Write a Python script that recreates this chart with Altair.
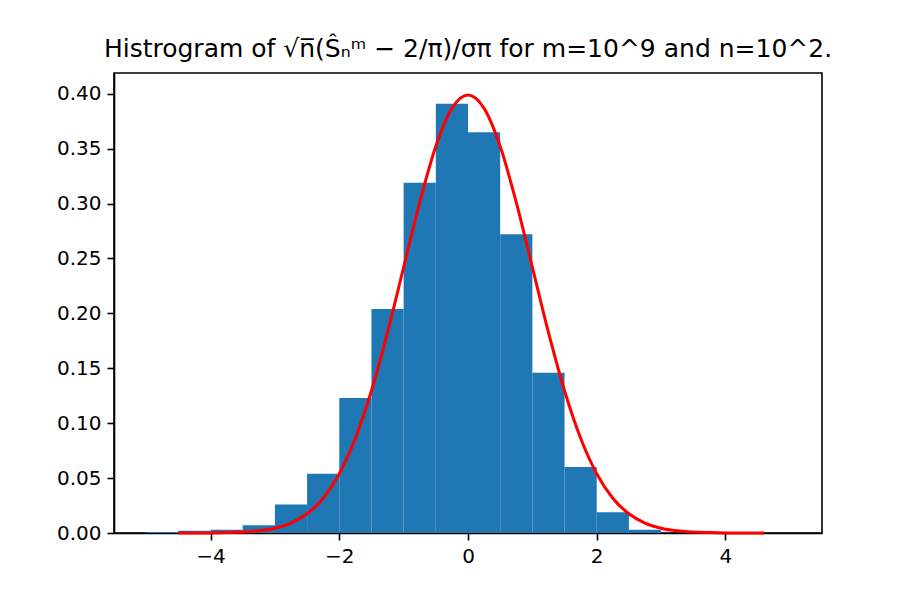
import altair as alt
import pandas as pd

# Histogram bins (edges) and densities
bin_left = [-5.0, -4.5, -4.0, -3.5, -3.0, -2.5, -2.0, -1.5, -1.0, -0.5, 0.0, 0.5, 1.0, 1.5, 2.0, 2.5]
bin_right = [-4.5, -4.0, -3.5, -3.0, -2.5, -2.0, -1.5, -1.0, -0.5, 0.0, 0.5, 1.0, 1.5, 2.0, 2.5, 3.0]
density = [0.001, 0.002, 0.003, 0.007, 0.026, 0.054, 0.123, 0.204, 0.319, 0.391,
           0.365, 0.272, 0.146, 0.060, 0.019, 0.003]

# Red density curve
curve_x = [-4.5, -4.25, -4.0, -3.75, -3.5, -3.25, -3.0, -2.75, -2.5, -2.25, -2.0, -1.75,
           -1.5, -1.25, -1.0, -0.75, -0.5, -0.25, 0.0, 0.25, 0.5, 0.75, 1.0, 1.25, 1.5,
           1.75, 2.0, 2.25, 2.5, 2.75, 3.0, 3.25, 3.5, 3.75, 4.0, 4.25, 4.5, 4.6]
curve_y = [0.0000, 0.0000, 0.0001, 0.0004, 0.0009, 0.0020, 0.0044, 0.0091, 0.0175, 0.0317,
           0.0540, 0.0863, 0.1295, 0.1826, 0.2420, 0.3011, 0.3521, 0.3867, 0.3989, 0.3867,
           0.3521, 0.3011, 0.2420, 0.1826, 0.1295, 0.0863, 0.0540, 0.0317, 0.0175, 0.0091,
           0.0044, 0.0020, 0.0009, 0.0004, 0.0001, 0.0000, 0.0000, 0.0000]

x_ticks = [-4, -2, 0, 2, 4]
y_ticks = [0.0, 0.05, 0.10, 0.15, 0.20, 0.25, 0.30, 0.35, 0.40]

hist_df = pd.DataFrame({"x0": bin_left, "x1": bin_right, "d": density})
curve_df = pd.DataFrame({"x": curve_x, "y": curve_y})

xscale = alt.Scale(domain=[-5.5, 5.5], nice=False, zero=False)
yscale = alt.Scale(domain=[0, 0.4189], nice=False)

xaxis = alt.Axis(values=x_ticks, title=None, grid=False, format="d")
yaxis = alt.Axis(values=y_ticks, title=None, grid=False, format=".2f")

bars = alt.Chart(hist_df).mark_rect(color="#1f77b4").encode(
    x=alt.X("x0:Q", scale=xscale, axis=xaxis),
    x2="x1:Q",
    y=alt.Y("d:Q", scale=yscale, axis=yaxis),
    y2=alt.datum(0),
)

line = alt.Chart(curve_df).mark_line(color="red", strokeWidth=3, interpolate="monotone").encode(
    x=alt.X("x:Q", scale=xscale),
    y=alt.Y("y:Q", scale=yscale),
)

title_text = "Histrogram of \u221an\u0305(S\u0302\u2099\u1d50 \u2212 2/\u03c0)/\u03c3\u03c0 for m=10^9 and n=10^2."

chart = (
    alt.layer(bars, line)
    .properties(
        width=708,
        height=460,
        title=alt.TitleParams(
            text=title_text,
            fontSize=25,
            font="DejaVu Sans",
            fontWeight="normal",
            color="black",
            anchor="middle",
            baseline="alphabetic",
            offset=15,
            dy=24,
        ),
        autosize=alt.AutoSizeParams(type="none"),
        padding={"left": 106, "top": 65, "right": 83, "bottom": 68},
        background="white",
    )
    .configure_view(stroke="black", strokeWidth=1.6)
    .configure_axis(
        domainColor="black",
        domainWidth=1.6,
        tickColor="black",
        tickWidth=1.6,
        tickSize=7,
        labelFont="DejaVu Sans",
        labelFontSize=20,
        labelColor="black",
        labelPadding=6,
    )
)

chart.save("out.html", embed_options={"renderer": "svg", "actions": False})
